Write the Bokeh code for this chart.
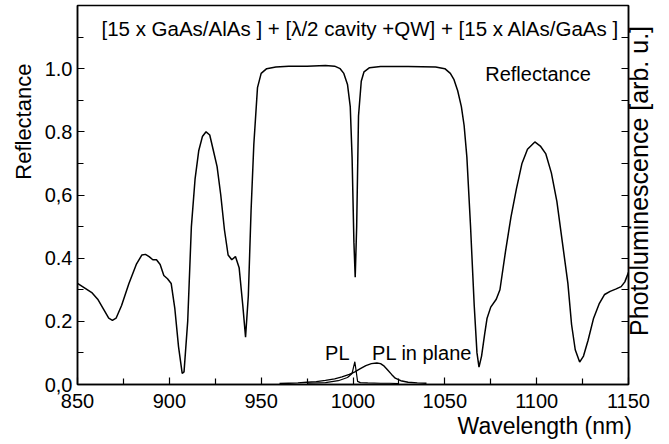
import math
from bokeh.plotting import figure
from bokeh.models import Range1d, FixedTicker, LinearAxis, Label
from bokeh.embed import file_html
from bokeh.resources import INLINE

# Reflectance spectrum (wavelength nm, reflectance)
refl_wl = [850, 854, 858, 861, 864, 867, 869, 871, 874, 878, 882, 885, 887, 889, 891, 893,
           895, 897, 899, 901, 903, 905, 907, 908, 910, 912, 914, 916, 918, 920, 922, 924,
           926, 928, 930, 932, 934, 936, 938, 940, 941.5, 943, 944.5, 946, 948, 950, 953,
           958, 965, 975, 985, 990, 993, 995, 997, 998.5, 999.5, 1000.5, 1001.2, 1002, 1003,
           1004.5, 1006, 1009, 1015, 1030, 1045, 1050, 1053, 1055, 1057, 1059, 1060.5, 1062,
           1064, 1066, 1067.5, 1068.6, 1070, 1071.7, 1073, 1075, 1078, 1080, 1083, 1086,
           1089, 1092, 1095, 1099, 1102, 1105, 1108, 1111, 1114, 1117, 1119, 1121, 1123.4,
           1125.5, 1128, 1131, 1134, 1137, 1140, 1143, 1146, 1148, 1150]
refl_val = [0.32, 0.305, 0.29, 0.27, 0.24, 0.21, 0.203, 0.21, 0.25, 0.32, 0.38, 0.41, 0.412,
            0.405, 0.395, 0.395, 0.38, 0.345, 0.335, 0.32, 0.24, 0.12, 0.035, 0.04, 0.2, 0.5,
            0.65, 0.74, 0.785, 0.80, 0.79, 0.74, 0.69, 0.6, 0.49, 0.41, 0.395, 0.405, 0.37,
            0.25, 0.15, 0.28, 0.55, 0.76, 0.94, 0.985, 1.0, 1.005, 1.008, 1.008, 1.01, 1.008,
            1.0, 0.985, 0.95, 0.88, 0.72, 0.45, 0.34, 0.5, 0.85, 0.96, 0.99, 1.003, 1.007,
            1.007, 1.005, 1.0, 0.985, 0.965, 0.93, 0.88, 0.82, 0.72, 0.5, 0.25, 0.1, 0.055,
            0.09, 0.16, 0.21, 0.245, 0.27, 0.3, 0.42, 0.53, 0.62, 0.70, 0.745, 0.768, 0.755,
            0.73, 0.67, 0.58, 0.45, 0.32, 0.19, 0.11, 0.071, 0.09, 0.14, 0.21, 0.255, 0.285,
            0.295, 0.302, 0.31, 0.325, 0.355]

# PL in plane (broad)
plip_wl = [960, 965, 970, 975, 980, 985, 990, 994, 998, 1001, 1004, 1007, 1010, 1013, 1015,
           1017, 1019, 1021, 1023, 1026, 1030, 1035, 1040]
plip_val = [0.003, 0.004, 0.005, 0.007, 0.009, 0.013, 0.018, 0.024, 0.032, 0.04, 0.05, 0.06,
            0.066, 0.068, 0.066, 0.058, 0.045, 0.032, 0.02, 0.012, 0.007, 0.005, 0.004]

# PL (narrow, normal direction)
pl_wl = [975, 985, 992, 997, 999.5, 1001, 1002.5, 1004, 1008, 1015, 1020, 1025]
pl_val = [0.004, 0.006, 0.012, 0.022, 0.035, 0.072, 0.01, 0.006, 0.005, 0.004, 0.004, 0.003]

x_major = [850, 900, 950, 1000, 1050, 1100, 1150]
x_minor = [875, 925, 975, 1025, 1075, 1125]
y_major = [0.0, 0.2, 0.4, 0.6, 0.8, 1.0]
y_major_labels = ["0,0", "0.2", "0.4", "0,6", "0.8", "1.0"]
y_minor = [0.1, 0.3, 0.5, 0.7, 0.9, 1.1]
y_right = [0.1, 0.2, 0.3, 0.4, 0.5, 0.6, 0.7, 0.8, 0.9, 1.0, 1.1]

FONT = "Liberation Sans"
NB = "\u00a0"

p = figure(width=669, height=444, output_backend="svg", toolbar_location=None,
           x_range=Range1d(850, 1150), y_range=Range1d(0, 1.2),
           min_border_left=77, min_border_right=31, min_border_top=5, min_border_bottom=60)
p.background_fill_color = "white"
p.border_fill_color = "white"
p.outline_line_color = "black"
p.outline_line_width = 1.5
p.xgrid.visible = False
p.ygrid.visible = False

xa = p.below[0]
ya = p.left[0]
rax = LinearAxis(ticker=FixedTicker(ticks=y_right, minor_ticks=[]))
p.add_layout(rax, "right")

for ax in [xa, ya, rax]:
    ax.axis_line_color = "black"
    ax.axis_line_width = 1.5
    ax.major_tick_line_color = "black"
    ax.minor_tick_line_color = "black"
    ax.major_tick_line_width = 1.2
    ax.minor_tick_line_width = 1.2
    ax.major_tick_in = 7
    ax.major_tick_out = 0
    ax.minor_tick_in = 6
    ax.minor_tick_out = 0
    ax.major_label_text_font = FONT
    ax.major_label_text_font_size = "20px"
    ax.major_label_text_color = "black"
    ax.axis_label_text_font = FONT
    ax.axis_label_text_font_style = "normal"
    ax.axis_label_text_color = "black"

xa.ticker = FixedTicker(ticks=x_major, minor_ticks=x_minor)
xa.major_label_standoff = 9
ya.ticker = FixedTicker(ticks=y_major, minor_ticks=y_minor)
ya.major_label_overrides = {v: s for v, s in zip(y_major, y_major_labels)}
ya.major_label_standoff = 5
rax.major_label_overrides = {v: "" for v in y_right}
rax.major_label_standoff = 0

# axis titles (centred on the axis; no-break spaces shift the visible words)
xa.axis_label_text_font_size = "23px"
xa.axis_label_standoff = 2
xa.axis_label = NB * 60 + "Wavelength (nm)"

ya.axis_label_text_font_size = "22px"
ya.axis_label_standoff = 6
ya.axis_label = NB * 24 + "Reflectance"

# right title: rotated to read bottom-to-top, starting from the lower end of the axis
rax.axis_label_text_font_size = "25px"
rax.axis_label_text_line_height = 0.75
rax.axis_label_standoff = 10
props = rax.properties()
if "axis_label_orientation" in props:
    rax.axis_label_orientation = math.pi / 2
if "axis_label_align" in props:
    rax.axis_label_align = "start"
rax.axis_label = NB * 7 + "Photoluminescence [arb. u.]"

p.line(refl_wl, refl_val, line_color="black", line_width=1.5)
p.line(plip_wl, plip_val, line_color="black", line_width=1.4)
p.line(pl_wl, pl_val, line_color="black", line_width=1.2)


def add_label(x, y, text, size, align="left", baseline="alphabetic", font=FONT):
    p.add_layout(Label(x=x, y=y, text=text, text_font=font, text_font_size=size,
                       text_align=align, text_baseline=baseline, text_color="black"))


add_label(1004, 1.126, "[15 x GaAs/AlAs ] + [\u03bb/2 cavity +QW] + [15 x AlAs/GaAs ]", "20.5px",
          align="center")
add_label(1072, 0.982, "Reflectance", "20px")
add_label(984.8, 0.1, "PL", "20px")
add_label(1010.4, 0.1, "PL in plane", "20px")

open("out.html", "w").write(file_html(p, INLINE))
